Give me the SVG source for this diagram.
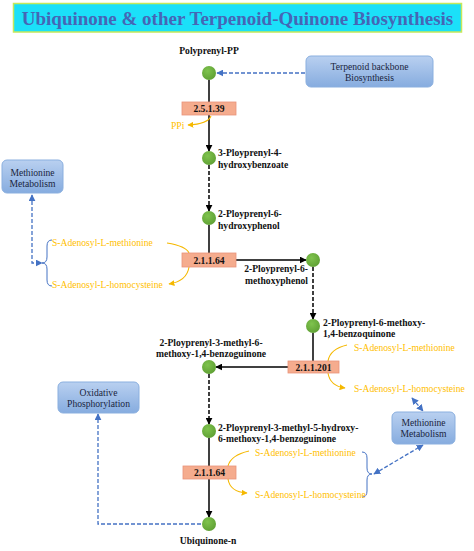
<svg xmlns="http://www.w3.org/2000/svg" width="474" height="551" viewBox="0 0 474 551">
<defs>
<linearGradient id="gb" x1="0" y1="0" x2="0" y2="1">
<stop offset="0" stop-color="#B9D0F0"/><stop offset="1" stop-color="#86ACDF"/>
</linearGradient>
<radialGradient id="gn" cx="0.4" cy="0.35" r="0.7">
<stop offset="0" stop-color="#7FC34E"/><stop offset="1" stop-color="#5E9F33"/>
</radialGradient>
<marker id="ak" viewBox="0 0 10 10" refX="9" refY="5" markerWidth="7" markerHeight="7" markerUnits="userSpaceOnUse" orient="auto"><path d="M0,0 L10,5 L0,10 Z" fill="#000"/></marker>
<marker id="ab" viewBox="0 0 10 10" refX="9" refY="5" markerWidth="7" markerHeight="7" markerUnits="userSpaceOnUse" orient="auto-start-reverse"><path d="M0,0 L10,5 L0,10 Z" fill="#4472C4"/></marker>
<marker id="ay" viewBox="0 0 10 10" refX="9" refY="5" markerWidth="6" markerHeight="6" markerUnits="userSpaceOnUse" orient="auto"><path d="M0,0 L10,5 L0,10 Z" fill="#F5B800"/></marker>
</defs>
<style>
text{font-family:"Liberation Serif","Times New Roman",Tinos,"DejaVu Serif",serif}
.lbl{font-size:9.6px;font-weight:bold;fill:#111}
.ec{font-size:9.6px;font-weight:bold;fill:#111;text-anchor:middle}
.yl{font-size:9.6px;fill:#FFC000}
.bt{font-size:9.6px;fill:#1A2540;text-anchor:middle}
.node{fill:url(#gn)}
.enz{fill:#F5AC8E;stroke:#E8937A;stroke-width:0.8}
.bbox{fill:url(#gb);stroke:#8AAFDF;stroke-width:1}
.sol{stroke:#000;stroke-width:1.5;fill:none}
.dsh{stroke:#000;stroke-width:1.5;fill:none;stroke-dasharray:4 2}
.bd{stroke:#4472C4;stroke-width:1.3;fill:none;stroke-dasharray:4 2}
.yc{stroke:#F5B800;stroke-width:1.1;fill:none}
.br{stroke:#4472C4;stroke-width:1;fill:none}
</style>
<rect width="474" height="551" fill="#fff"/>
<g id="title">
<rect x="13.5" y="3.5" width="448" height="28.5" fill="#1BE0F9" stroke="#C6E85A" stroke-width="1.5"/>
<text x="237.5" y="24.5" text-anchor="middle" font-weight="bold" font-size="19" fill="#4566B6">Ubiquinone &amp; other Terpenoid-Quinone Biosynthesis</text>
</g>
<g id="connectors">
<line class="sol" x1="209" y1="80" x2="209" y2="151" marker-end="url(#ak)"/>
<line class="dsh" x1="209" y1="165" x2="209" y2="211" marker-end="url(#ak)"/>
<line class="sol" x1="209" y1="225" x2="209" y2="253"/>
<line class="sol" x1="236" y1="260" x2="306" y2="260" marker-end="url(#ak)"/>
<line class="dsh" x1="313" y1="267" x2="313" y2="319" marker-end="url(#ak)"/>
<line class="sol" x1="313" y1="333" x2="313" y2="361"/>
<line class="sol" x1="288" y1="367" x2="216" y2="367" marker-end="url(#ak)"/>
<line class="dsh" x1="209" y1="374" x2="209" y2="424" marker-end="url(#ak)"/>
<line class="sol" x1="209" y1="438" x2="209" y2="517" marker-end="url(#ak)"/>
<line class="bd" x1="305" y1="73" x2="217" y2="73" marker-end="url(#ab)"/>
<polyline class="bd" points="32,195 32,263 42,263" marker-start="url(#ab)" marker-end="url(#ab)"/>
<polyline class="bd" points="201,524 98,524 98,414" marker-end="url(#ab)"/>
<line class="bd" x1="374" y1="474" x2="423" y2="445" marker-start="url(#ab)" marker-end="url(#ab)"/>
<line class="bd" x1="412" y1="398" x2="423" y2="411" marker-start="url(#ab)" marker-end="url(#ab)"/>
<path class="yc" d="M211,116 Q208,124 188,125" marker-end="url(#ay)"/>
<path class="yc" d="M167,243 Q186,246 189,253"/>
<path class="yc" d="M189,267 Q187,281 169,284" marker-end="url(#ay)"/>
<path class="yc" d="M347,345 Q330,349 328,361"/>
<path class="yc" d="M328,373 Q330,386 345,388" marker-end="url(#ay)"/>
<path class="yc" d="M249,451 Q231,455 228,466"/>
<path class="yc" d="M228,479 Q230,492 247,493" marker-end="url(#ay)"/>
<path class="br" d="M52,240 Q47,240 47,246 L47,257 Q47,263 42,263 Q47,263 47,269 L47,280 Q47,286 52,286"/>
<path class="br" d="M362,452 Q367,452 367,458 L367,468 Q367,474 372,474 Q367,474 367,480 L367,491 Q367,497 362,497"/>
</g>
<g id="n-polyprenyl-pp">
<circle class="node" cx="209" cy="73" r="7"/>
<text class="ec" x="209" y="54">Polyprenyl-PP</text>
</g>
<g id="terpenoid-backbone">
<rect class="bbox" x="306" y="56" width="127" height="31" rx="5"/>
<text class="bt" x="369.5" y="69.5">Terpenoid backbone</text>
<text class="bt" x="369.5" y="80.5">Biosynthesis</text>
</g>
<g id="e-2.5.1.39">
<rect class="enz" x="182" y="102" width="54" height="13"/>
<text class="ec" x="209" y="112">2.5.1.39</text>
<text class="yl" x="171" y="129">PPi</text>
</g>
<g id="n-3-ploy">
<circle class="node" cx="209" cy="158" r="7"/>
<text class="lbl" x="218" y="156">3-Ployprenyl-4-</text>
<text class="lbl" x="218" y="168">hydroxybenzoate</text>
</g>
<g id="n-2-ploy-hydroxyphenol">
<circle class="node" cx="209" cy="218" r="7"/>
<text class="lbl" x="218" y="216.5">2-Ployprenyl-6-</text>
<text class="lbl" x="218" y="229">hydroxyphenol</text>
</g>
<g id="methionine-left">
<rect class="bbox" x="2" y="160" width="61" height="33" rx="5"/>
<text class="bt" x="32.5" y="175.5">Methionine</text>
<text class="bt" x="32.5" y="187">Metabolism</text>
</g>
<g id="e-2.1.1.64-a">
<rect class="enz" x="182" y="253" width="54" height="14"/>
<text class="ec" x="209" y="263.5">2.1.1.64</text>
<text class="yl" x="52" y="246">S-Adenosyl-L-methionine</text>
<text class="yl" x="52" y="288">S-Adenosyl-L-homocysteine</text>
</g>
<g id="n-2-ploy-methoxyphenol">
<circle class="node" cx="313" cy="260" r="7"/>
<text class="lbl" x="308" y="272" text-anchor="end">2-Ployprenyl-6-</text>
<text class="lbl" x="308" y="284" text-anchor="end">methoxyphenol</text>
</g>
<g id="n-2-ploy-methoxy-benzoquinone">
<circle class="node" cx="313" cy="326" r="7"/>
<text class="lbl" x="323" y="325.5">2-Ployprenyl-6-methoxy-</text>
<text class="lbl" x="323" y="336.5">1,4-benzoquinone</text>
</g>
<g id="e-2.1.1.201">
<rect class="enz" x="288" y="361" width="51" height="12"/>
<text class="ec" x="313.5" y="370.5">2.1.1.201</text>
<text class="yl" x="354" y="350.5">S-Adenosyl-L-methionine</text>
<text class="yl" x="354" y="391.5">S-Adenosyl-L-homocysteine</text>
</g>
<g id="n-2-ploy-3-methyl">
<circle class="node" cx="209" cy="367" r="7"/>
<text class="ec" x="211" y="345.5">2-Ployprenyl-3-methyl-6-</text>
<text class="ec" x="211" y="356.5">methoxy-1,4-benzoguinone</text>
</g>
<g id="methionine-right">
<rect class="bbox" x="392" y="412" width="63" height="32" rx="5"/>
<text class="bt" x="423.5" y="425.5">Methionine</text>
<text class="bt" x="423.5" y="436.5">Metabolism</text>
</g>
<g id="oxidative-phosphorylation">
<rect class="bbox" x="58" y="382" width="81" height="31" rx="5"/>
<text class="bt" x="98.5" y="395.5">Oxidative</text>
<text class="bt" x="98.5" y="406.5">Phosphorylation</text>
</g>
<g id="n-2-ploy-3-methyl-5-hydroxy">
<circle class="node" cx="209" cy="431" r="7"/>
<text class="lbl" x="218" y="430.5">2-Ployprenyl-3-methyl-5-hydroxy-</text>
<text class="lbl" x="218" y="441.5">6-methoxy-1,4-benzoguinone</text>
</g>
<g id="e-2.1.1.64-b">
<rect class="enz" x="183" y="466" width="53" height="13"/>
<text class="ec" x="209.5" y="476">2.1.1.64</text>
<text class="yl" x="255" y="455.5">S-Adenosyl-L-methionine</text>
<text class="yl" x="255" y="497.5">S-Adenosyl-L-homocysteine</text>
</g>
<g id="n-ubiquinone-n">
<circle class="node" cx="209" cy="524" r="7"/>
<text class="ec" x="208" y="543.5">Ubiquinone-n</text>
</g>
</svg>
